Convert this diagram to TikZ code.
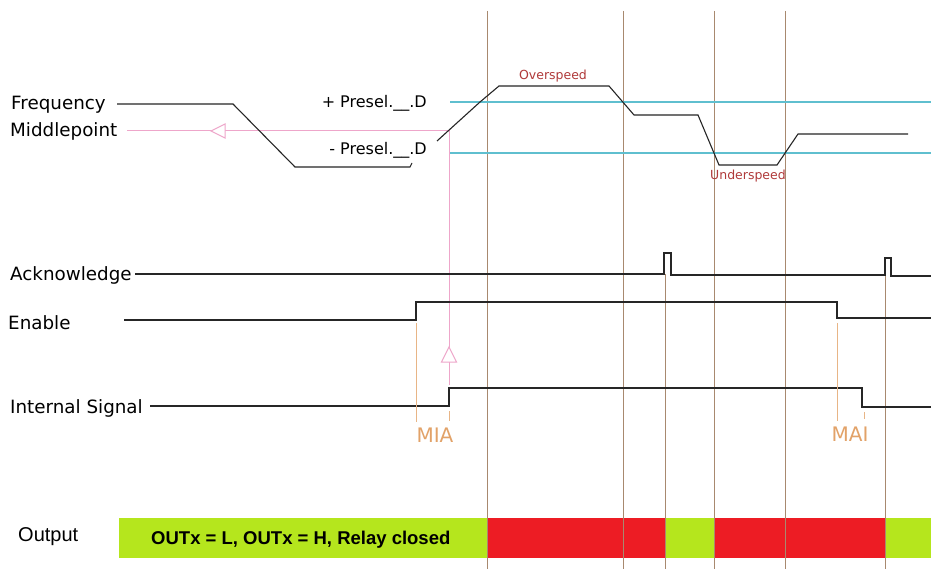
\documentclass[tikz,border=0pt]{standalone}
\usepackage{fontspec}
\setmainfont{DejaVu Sans}
\newfontfamily\arialfont{Liberation Sans}
\definecolor{sigbrown}{HTML}{A8896F}
\definecolor{sigpink}{HTML}{EEA6CA}
\definecolor{sigcyan}{HTML}{5FBFCF}
\definecolor{sigorange}{HTML}{E2A268}
\definecolor{sigred}{HTML}{B03A3A}
\definecolor{barlime}{HTML}{B5E61D}
\definecolor{barred}{HTML}{ED1C24}
\tikzset{
  sig/.style={draw=black!85, line width=1.1pt},
  grid/.style={draw=sigbrown, line width=1pt},
  pinkline/.style={draw=sigpink, line width=1pt},
  cyanline/.style={draw=sigcyan, line width=1.1pt},
  mark line/.style={draw=sigorange!80, line width=1pt},
  lbl/.style={inner sep=0pt, anchor=base west, font=\fontsize{18.3}{20}\selectfont},
  presel/.style={inner sep=0pt, anchor=base east, font=\fontsize{16}{18}\selectfont},
  speedlbl/.style={inner sep=0pt, anchor=base, text=sigred, font=\fontsize{12.5}{14}\selectfont},
  marklbl/.style={inner sep=0pt, anchor=base, text=sigorange, font=\fontsize{20}{22}\selectfont},
  openarrow/.style={draw=sigpink, fill=white, line width=1pt}
}
\begin{document}
\begin{tikzpicture}[x=1pt,y=-1pt]
\useasboundingbox (0,0) rectangle (931,569);
\fill[white] (0,0) rectangle (931,569);

% output bar
\fill[barlime] (119,518) rectangle (931,558);
\fill[barred] (487,518) rectangle (665,558);
\fill[barred] (715,518) rectangle (885,558);
\node[inner sep=0pt, anchor=base west, font=\arialfont\bfseries\fontsize{18.5}{20}\selectfont] (bartext) at (151,544) {OUTx = L, OUTx = H, Relay closed};
\node[inner sep=0pt, anchor=base west, font=\arialfont\fontsize{20}{22}\selectfont] (output) at (18,541) {Output};

% vertical time lines
\foreach \x in {487,623,714,785} \draw[grid] (\x,11) -- (\x,569);
\draw[grid] (665,274) -- (665,569);
\draw[grid] (885,276) -- (885,569);

% cyan thresholds
\draw[cyanline] (450,102) -- (931,102);
\draw[cyanline] (450,153) -- (931,153);

% pink middlepoint lines
\draw[pinkline] (127,131) -- (449,131) -- (449,385);
\draw[openarrow] (211,131) -- (225,124) -- (225,138) -- cycle;
\draw[openarrow] (449,347) -- (441.5,362) -- (456.5,362) -- cycle;

% labels
\node[lbl] (freq) at (11,110) {Frequency};
\node[lbl] (mid) at (10,137) {Middlepoint};
\node[lbl] (ack) at (10,280) {Acknowledge};
\node[lbl] (en) at (8,329) {Enable};
\node[lbl] (isig) at (10,413) {Internal Signal};
\node[presel] (pplus) at (427,108) {+ Presel.\_\_.D};
\node[presel] (pminus) at (427,155) {- Presel.\_\_.D};
\node[speedlbl] (over) at (553,80) {Overspeed};
\node[speedlbl] (under) at (748,180) {Underspeed};

% frequency curve
\draw[sig] (117,104) -- (233,104) -- (295,167) -- (410,167) -- (412,163);
\draw[sig] (437,141) -- (480,102) -- (499,86) -- (609,86) -- (634,115) -- (698,115) -- (719,165) -- (777,165) -- (798,134) -- (908,134);

% acknowledge
\draw[sig] (135,274) -- (664,274) -- (664,253) -- (671,253) -- (671,275) -- (885,275) -- (885,258) -- (891,258) -- (891,276) -- (931,276);
% enable
\draw[sig] (124,320) -- (416,320) -- (416,302) -- (837,302) -- (837,318) -- (931,318);
% internal signal
\draw[sig] (150,406) -- (449,406) -- (449,388) -- (862,388) -- (862,407) -- (931,407);

% MIA / MAI markers
\draw[mark line] (416,323) -- (416,422);
\draw[mark line] (449,411) -- (449,421);
\draw[mark line] (837,323) -- (837,421);
\draw[mark line] (864,412) -- (864,419);
\node[marklbl] (mia) at (435,442) {MIA};
\node[marklbl] (mai) at (850,441) {MAI};
\end{tikzpicture}
\end{document}
